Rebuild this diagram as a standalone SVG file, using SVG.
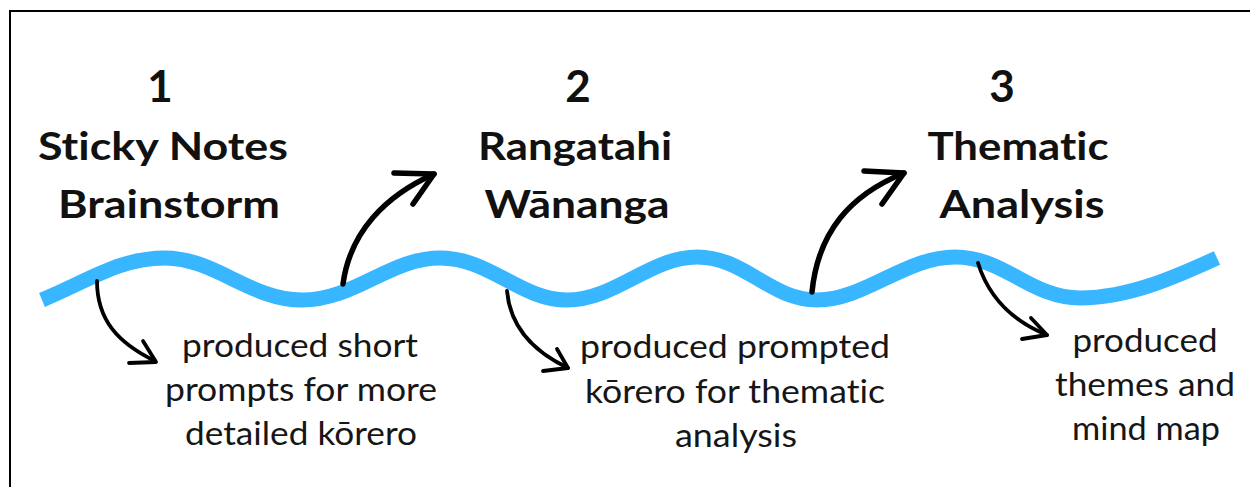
<svg xmlns="http://www.w3.org/2000/svg" width="1250" height="487" viewBox="0 0 1250 487">
<style>
text{font-variant-ligatures:none;font-feature-settings:"liga" 0,"clig" 0}
.head{font-family:Lato,"Liberation Sans",sans-serif;font-weight:700;font-size:39px;fill:#111;text-anchor:middle}
.num{font-family:Lato,"Liberation Sans",sans-serif;font-weight:700;font-size:44px;fill:#111;text-anchor:middle}
.body{font-family:Lato,"Liberation Sans",sans-serif;font-weight:400;font-size:32px;fill:#161616;text-anchor:middle}
.wave{fill:none;stroke:#38b6ff;stroke-width:15}
.up{fill:none;stroke:#000;stroke-width:5.5;stroke-linecap:round;stroke-linejoin:round}
.down{fill:none;stroke:#000;stroke-width:3.8;stroke-linecap:round;stroke-linejoin:round}
</style>
<rect x="0" y="0" width="1250" height="487" fill="#fff"/>
<rect x="10" y="11" width="1270" height="500" fill="none" stroke="#000" stroke-width="2"/>
<g id="wave">
<path class="wave" d="M42,300 C90,280 120,258 165,258 C215,258 250,300 302,300 C355,300 390,258 440,258 C490,258 520,300 567,300 C615,300 650,257 697,257 C745,257 770,300 817,300 C865,300 905,257 955,257 C1005,257 1030,298 1080,298 C1130,298 1180,275 1217,258"/>
</g>
<g id="connectors">
<path class="down" d="M97,281 C97,320 118,343 155,361"/>
<path class="down" d="M143,341 L156,362 L129,363"/>
<path class="up" d="M343,284 C350,232 385,196 434,174"/>
<path class="up" d="M394,173 L434,174 L413,204"/>
<path class="down" d="M507,291 C510,325 530,350 568,368"/>
<path class="down" d="M557,349 L568,368 L543,371"/>
<path class="up" d="M812,292 C818,232 850,195 904,173"/>
<path class="up" d="M864,171 L904,173 L882,204"/>
<path class="down" d="M978,263 C988,295 1010,320 1047,335"/>
<path class="down" d="M1031,318 L1047,335 L1022,339"/>
</g>
<g id="step1">
<text class="num" x="160" y="102">1</text>
<text class="head" x="163" y="160" textLength="250" lengthAdjust="spacingAndGlyphs">Sticky Notes</text>
<text class="head" x="169" y="218" textLength="222" lengthAdjust="spacingAndGlyphs">Brainstorm</text>
</g>
<g id="step2">
<text class="num" x="578" y="102">2</text>
<text class="head" x="575" y="160" textLength="194" lengthAdjust="spacingAndGlyphs">Rangatahi</text>
<text class="head" x="577" y="218" textLength="185" lengthAdjust="spacingAndGlyphs">Wānanga</text>
</g>
<g id="step3">
<text class="num" x="1002" y="102">3</text>
<text class="head" x="1018" y="160" textLength="181" lengthAdjust="spacingAndGlyphs">Thematic</text>
<text class="head" x="1022" y="218" textLength="165" lengthAdjust="spacingAndGlyphs">Analysis</text>
</g>
<g id="note1">
<text class="body" x="300" y="357" textLength="236" lengthAdjust="spacingAndGlyphs">produced short</text>
<text class="body" x="301" y="401" textLength="272" lengthAdjust="spacingAndGlyphs">prompts for more</text>
<text class="body" x="301" y="445" textLength="232" lengthAdjust="spacingAndGlyphs">detailed kōrero</text>
</g>
<g id="note2">
<text class="body" x="735" y="358" textLength="310" lengthAdjust="spacingAndGlyphs">produced prompted</text>
<text class="body" x="735" y="403" textLength="300" lengthAdjust="spacingAndGlyphs">kōrero for thematic</text>
<text class="body" x="736" y="447" textLength="122" lengthAdjust="spacingAndGlyphs">analysis</text>
</g>
<g id="note3">
<text class="body" x="1145" y="352" textLength="145" lengthAdjust="spacingAndGlyphs">produced</text>
<text class="body" x="1145" y="396" textLength="180" lengthAdjust="spacingAndGlyphs">themes and</text>
<text class="body" x="1146" y="440" textLength="148" lengthAdjust="spacingAndGlyphs">mind map</text>
</g>
</svg>
